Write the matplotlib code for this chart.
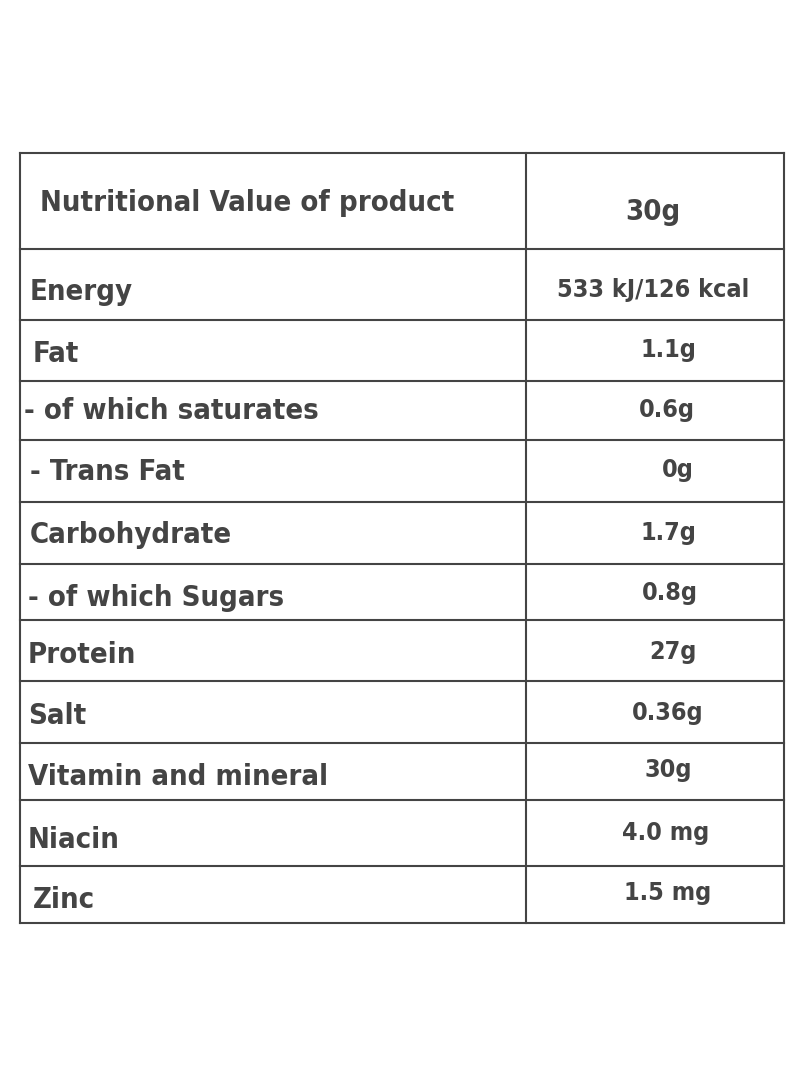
import matplotlib
matplotlib.use("Agg")
import matplotlib.pyplot as plt

HEADER = ["Nutritional Value of product", "30g"]
NUTRIENTS = ["Energy", "Fat", "- of which saturates", "- Trans Fat", "Carbohydrate",
             "- of which Sugars", "Protein", "Salt", "Vitamin and mineral", "Niacin", "Zinc"]
AMOUNTS = ["533 kJ/126 kcal", "1.1g", "0.6g", "0g", "1.7g", "0.8g", "27g",
           "0.36g", "30g", "4.0 mg", "1.5 mg"]

# layout (pixels)
ROW_EDGES = [153, 249, 320, 381, 440, 502, 564, 620, 681, 743, 800, 866, 923]
LEFT, MID, RIGHT = 20, 526, 784
LABEL_X = [30, 33, 24, 30, 30, 28, 28, 28, 28, 28, 33]
VALUE_X = [653, 668, 667, 678, 668, 670, 673, 668, 668, 666, 668]
LABEL_Y = [292, 354, 411, 472, 535, 598, 655, 716, 777, 840, 900]
VALUE_Y = [290, 350, 410, 470, 533, 593, 652, 713, 770, 833, 893]

plt.rcParams['font.family'] = ['DejaVu Sans']
plt.rcParams['font.stretch'] = 'condensed'
COL = "#444444"

fig = plt.figure(figsize=(8, 10.91), dpi=100)
ax = fig.add_axes([0, 0, 1, 1])
ax.set_xlim(0, 800)
ax.set_ylim(1091, 0)
ax.axis("off")

for y in ROW_EDGES:
    ax.plot([LEFT, RIGHT], [y, y], color=COL, lw=1.5)
for x in (LEFT, MID, RIGHT):
    ax.plot([x, x], [ROW_EDGES[0], ROW_EDGES[-1]], color=COL, lw=1.5)

ax.text(40, 203, HEADER[0], fontsize=21, fontweight="bold", color=COL, va="center")
ax.text(653, 212, HEADER[1], fontsize=21, fontweight="bold", color=COL, va="center", ha="center")

for name, x, y in zip(NUTRIENTS, LABEL_X, LABEL_Y):
    ax.text(x, y, name, fontsize=21, fontweight="bold", color=COL, va="center")
for amt, x, y in zip(AMOUNTS, VALUE_X, VALUE_Y):
    ax.text(x, y, amt, fontsize=18, fontweight="bold", color=COL, va="center", ha="center")

fig.savefig("out.png", dpi=100, facecolor="white")
